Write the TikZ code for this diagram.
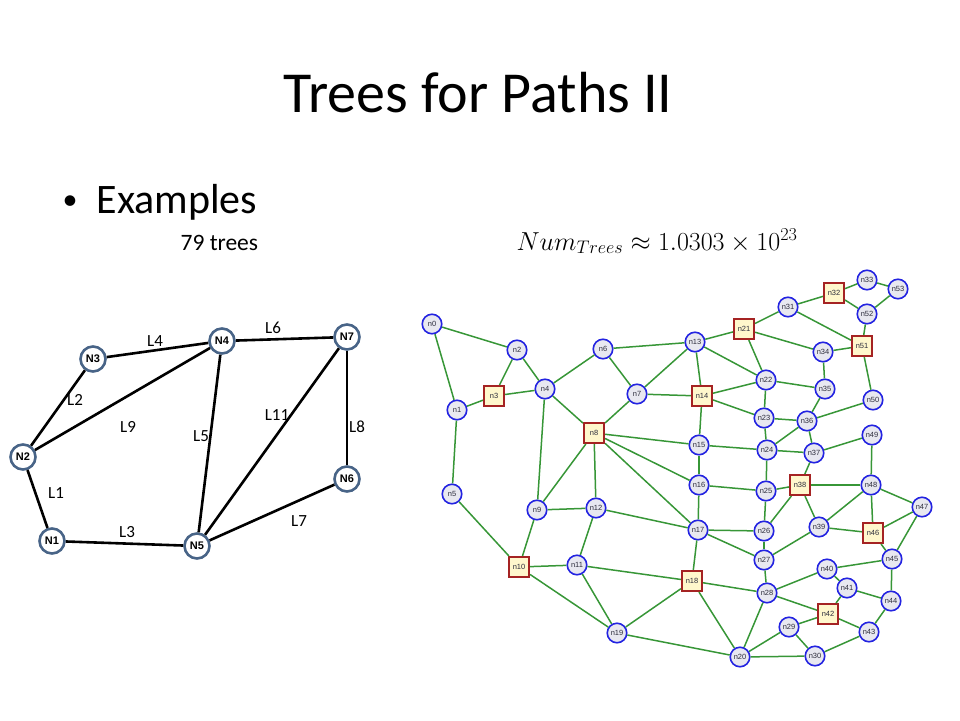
\RequirePackage{fix-cm}
\documentclass[tikz,border=0pt]{standalone}
\usepackage{amsmath}
\usepackage{amssymb}
\usepackage{fontspec}
\setmainfont{Carlito}
\newfontfamily\arialfont{Liberation Sans}
\definecolor{nslate}{RGB}{72,100,135}
\definecolor{nblue}{RGB}{35,35,225}
\definecolor{nfill}{RGB}{232,232,240}
\definecolor{nred}{RGB}{165,35,35}
\definecolor{nyel}{RGB}{255,247,204}
\definecolor{ngreen}{RGB}{55,150,55}
\definecolor{ntext}{RGB}{45,45,60}

\begin{document}
\begin{tikzpicture}[x=1pt,y=-1pt,line width=2.6pt,
N/.style={circle,draw=nslate,fill=white,minimum size=25pt,inner sep=0pt,font=\arialfont\bfseries\fontsize{11}{11}\selectfont},
lab/.style={font=\fontsize{17}{17}\selectfont},
cn/.style={circle,draw=nblue,fill=nfill,line width=1.6pt,minimum size=19.5pt,inner sep=0pt,text=ntext,font=\arialfont\fontsize{7.5}{7.5}\selectfont},
sq/.style={rectangle,draw=nred,fill=nyel,line width=1.6pt,minimum size=20.5pt,inner sep=0pt,text=ntext,font=\arialfont\fontsize{7.5}{7.5}\selectfont},
ge/.style={draw=ngreen,line width=1.5pt}]
\useasboundingbox (0,0) rectangle (960,720);
\node[anchor=base,font=\fontsize{58}{60}\selectfont] (title) at (478,112) {Trees for Paths II};
\node[anchor=base west,font=\fontsize{30}{30}\selectfont] (bul) at (58,209) {•};
\node[anchor=base west,font=\fontsize{42}{42}\selectfont] (ex) at (92,213) {Examples};
\node[anchor=base west,font=\fontsize{23.5}{24}\selectfont] (cnt) at (176,250) {79 trees};
\node[anchor=base west,font=\fontsize{26}{26}\selectfont] (num) at (512,250) {$Num_{Trees}\approx 1.0303\times 10^{23}$};
\foreach \i/\x/\y in {1/52/541,2/23/457,3/93/359,4/222/341,5/197/546,6/347/479,7/347/337}{\node[N] (N\i) at (\x,\y) {N\i};};
\draw (N2) -- node[lab,xshift=18.5pt,yshift=6pt]{L1} (N1);
\draw (N2) -- node[lab,xshift=17pt,yshift=8pt]{L2} (N3);
\draw (N1) -- node[lab,xshift=2.5pt,yshift=11.5pt]{L3} (N5);
\draw (N3) -- node[lab,xshift=-2.5pt,yshift=9pt]{L4} (N4);
\draw (N4) -- node[lab,xshift=-8.5pt,yshift=7.5pt]{L5} (N5);
\draw (N4) -- node[lab,xshift=-11.5pt,yshift=11pt]{L6} (N7);
\draw (N6) -- node[lab,xshift=27pt,yshift=-8.5pt]{L7} (N5);
\draw (N7) -- node[lab,xshift=10pt,yshift=-19pt]{L8} (N6);
\draw (N2) -- node[lab,xshift=5.5pt,yshift=-28pt]{L9} (N4);
\draw (N7) -- node[lab,xshift=5pt,yshift=26.5pt]{L11} (N5);
\foreach \i/\x/\y in {0/432/324,1/457/410,2/517/350,4/545/389,5/452/494,6/603/349,7/637/394,9/537/510,11/577/565,12/596/508,13/695/342,15/699/445,16/699/485,17/698/530,19/617/633,20/740/657,22/766/380,23/764/418,24/767/450,25/766/491,26/764/531,27/764/560,28/767/593,29/789/627,30/815/656,31/788/307,33/867/280,34/823/352,35/825/389,36/807/421,37/814/453,39/819/527,40/827/569,41/847/588,43/869/632,44/891/601,45/892/559,47/922/507,48/871/485,49/872/435,50/873/400,52/867/314,53/898/289}{\node[cn] (n\i) at (\x,\y) {n\i};};
\foreach \i/\x/\y in {3/494/396,8/594/433,10/519/567,14/702/396,18/692/581,21/744/329,32/834/293,38/800/485,42/828/614,46/873/533,51/862/346}{\node[sq] (n\i) at (\x,\y) {n\i};};
\foreach \a/\b in {0/2,0/1,2/3,2/4,3/4,1/3,1/5,4/6,4/8,4/9,6/13,6/7,7/13,7/14,7/8,8/15,8/16,8/17,8/9,8/12,9/12,9/10,5/10,12/17,12/11,10/11,10/19,11/18,11/19,18/19,18/17,19/20,18/28,18/20}{\draw[ge] (n\a) -- (n\b);};
\foreach \a/\b in {13/21,13/22,13/14,14/22,14/23,14/15,21/31,21/34,21/22,31/32,31/51,32/33,32/52,33/53,53/52,52/51,34/51,51/50,34/35,22/23,22/35,23/36,23/24,35/36,36/50,36/24,36/37,24/37,37/49}{\draw[ge] (n\a) -- (n\b);};
\foreach \a/\b in {15/16,15/24,16/17,16/25,17/26,17/27,24/25,37/38,49/48,38/48,38/25,38/26,38/39,48/39,48/46,48/47,47/46,47/45,46/45,46/39,39/27,25/26,26/27,27/28,28/40,28/42,28/20,40/45,40/41,41/42,41/44,44/45,44/43,42/43,42/29,29/20,29/30,20/30,30/43}{\draw[ge] (n\a) -- (n\b);};
\end{tikzpicture}
\end{document}
